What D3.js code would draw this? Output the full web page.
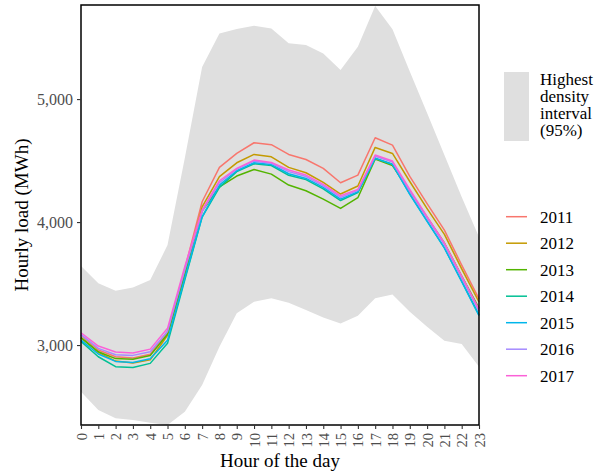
<!DOCTYPE html>
<html>
<head>
<meta charset="utf-8">
<script src="https://cdn.jsdelivr.net/npm/d3@7"></script>
<style>
  body { margin: 0; background: #fff; }
  svg { display: block; font-family: "Liberation Serif", "Times New Roman", serif; }
</style>
</head>
<body>
<div id="chart"></div>
<script>
// --------------------------------------------------------
// DATA
// --------------------------------------------------------
const hours = d3.range(0, 24);
const years = ["2011", "2012", "2013", "2014", "2015", "2016", "2017"];
const colors = ["#F8766D", "#C49A00", "#53B400", "#00C094", "#00B6EB", "#A58AFF", "#FB61D7"];

// highest density interval (95%)
const hdiUpper = [3642, 3502, 3441, 3469, 3528, 3813, 4520, 5260, 5533, 5569, 5596, 5574,
                  5455, 5439, 5371, 5236, 5425, 5756, 5567, 5225, 4886, 4545, 4203, 3878];
const hdiLower = [2620, 2472, 2404, 2390, 2368, 2350, 2458, 2675, 2986, 3258, 3352, 3380,
                  3345, 3285, 3225, 3176, 3238, 3380, 3412, 3271, 3149, 3035, 3008, 2824];

const load2011 = [3080, 2960, 2905, 2895, 2925, 3110, 3620, 4165, 4445, 4558, 4645, 4629,
                  4550, 4509, 4436, 4320, 4382, 4686, 4626, 4371, 4150, 3935, 3650, 3375];
const load2012 = [3060, 2940, 2870, 2855, 2880, 3080, 3570, 4124, 4369, 4482, 4550, 4531,
                  4445, 4401, 4322, 4228, 4293, 4607, 4558, 4330, 4110, 3900, 3620, 3350];
const load2013 = [3060, 2945, 2890, 2885, 2915, 3090, 3580, 4090, 4287, 4374, 4428, 4390,
                  4301, 4255, 4187, 4111, 4198, 4512, 4460, 4250, 4040, 3830, 3560, 3300];
const load2014 = [3030, 2905, 2824, 2818, 2851, 3014, 3530, 4040, 4282, 4410, 4474, 4460,
                  4380, 4345, 4270, 4175, 4240, 4520, 4470, 4230, 4010, 3790, 3520, 3245];
const load2015 = [3040, 2927, 2867, 2859, 2889, 3040, 3545, 4043, 4301, 4417, 4482, 4469,
                  4393, 4355, 4282, 4187, 4247, 4518, 4469, 4225, 4005, 3790, 3515, 3240];
const load2016 = [3085, 2973, 2921, 2916, 2946, 3110, 3610, 4085, 4320, 4430, 4495, 4478,
                  4410, 4370, 4295, 4200, 4258, 4535, 4488, 4250, 4030, 3815, 3545, 3275];
const load2017 = [3100, 2992, 2943, 2935, 2967, 3136, 3640, 4098, 4336, 4436, 4504, 4485,
                  4423, 4382, 4306, 4214, 4266, 4545, 4496, 4266, 4045, 3830, 3560, 3290];

const yTicks = [3000, 4000, 5000];
const hdiLabel = ["Highest", "density", "interval", "(95%)"];

// --------------------------------------------------------
// LAYOUT
// --------------------------------------------------------
const width = 594;
const height = 475;
const margin = { top: 5, right: 115, bottom: 50, left: 81 };
const innerW = width - margin.left - margin.right;
const innerH = height - margin.top - margin.bottom;

const series = years.map((y, i) => ({
  year: y,
  color: colors[i],
  values: [load2011, load2012, load2013, load2014, load2015, load2016, load2017][i],
}));

const x = d3.scaleLinear().domain([0, 23]).range([margin.left, margin.left + innerW]);
const y = d3.scaleLinear().domain([2350, 5765]).range([margin.top + innerH, margin.top]);

const svg = d3.select("#chart")
  .append("svg")
  .attr("width", width)
  .attr("height", height);

// band
const area = d3.area()
  .x((d, i) => x(hours[i]))
  .y0((d, i) => y(hdiLower[i]))
  .y1((d) => y(d));

svg.append("path")
  .attr("fill", "#DFDFDF")
  .attr("d", area(hdiUpper));

// lines
const line = d3.line()
  .x((d, i) => x(hours[i]))
  .y((d) => y(d));

svg.append("g")
  .selectAll("path")
  .data(series)
  .join("path")
  .attr("fill", "none")
  .attr("stroke", (d) => d.color)
  .attr("stroke-width", 1.5)
  .attr("stroke-linejoin", "round")
  .attr("d", (d) => line(d.values));

// panel border
svg.append("rect")
  .attr("x", margin.left)
  .attr("y", margin.top)
  .attr("width", innerW)
  .attr("height", innerH)
  .attr("fill", "none")
  .attr("stroke", "#000")
  .attr("stroke-width", 1.5);

// axes
const yAxis = svg.append("g")
  .attr("transform", `translate(${margin.left},0)`)
  .call(d3.axisLeft(y).tickValues(yTicks).tickFormat(d3.format(",")).tickSize(4).tickPadding(4));
yAxis.select(".domain").remove();
yAxis.selectAll("line").attr("stroke", "#333").attr("stroke-width", 1.1);
yAxis.selectAll("text")
  .attr("fill", "#4D4D4D")
  .style("font-size", "16px")
  .style("font-family", "Liberation Serif, serif");

const xAxis = svg.append("g")
  .attr("transform", `translate(0,${margin.top + innerH})`)
  .call(d3.axisBottom(x).tickValues(hours).tickFormat(d3.format("d")).tickSize(4));
xAxis.select(".domain").remove();
xAxis.selectAll("line").attr("stroke", "#333").attr("stroke-width", 1.1);
xAxis.selectAll("text")
  .attr("fill", "#4D4D4D")
  .style("font-size", "14.5px")
  .style("font-family", "Liberation Serif, serif")
  .attr("transform", "rotate(-90)")
  .attr("text-anchor", "end")
  .attr("dy", "0.35em")
  .attr("x", -8)
  .attr("y", 0);

// axis titles
svg.append("text")
  .attr("x", margin.left + innerW / 2)
  .attr("y", 467)
  .attr("text-anchor", "middle")
  .style("font-size", "19px")
  .text("Hour of the day");

svg.append("text")
  .attr("transform", `translate(28,${margin.top + innerH / 2}) rotate(-90)`)
  .attr("text-anchor", "middle")
  .style("font-size", "19px")
  .text("Hourly load (MWh)");

// legend: band
const lg = svg.append("g");
lg.append("rect")
  .attr("x", 504)
  .attr("y", 72)
  .attr("width", 25)
  .attr("height", 69)
  .attr("fill", "#DFDFDF");

lg.append("text")
  .attr("x", 540)
  .attr("y", 85)
  .style("font-size", "17px")
  .selectAll("tspan")
  .data(hdiLabel)
  .join("tspan")
  .attr("x", 540)
  .attr("dy", (d, i) => (i === 0 ? 0 : 17))
  .text((d) => d);

// legend: years
const items = lg.selectAll("g.item")
  .data(series)
  .join("g")
  .attr("class", "item")
  .attr("transform", (d, i) => `translate(0,${216.7 + i * 26.5})`);

items.append("line")
  .attr("x1", 506)
  .attr("x2", 527)
  .attr("stroke", (d) => d.color)
  .attr("stroke-width", 1.5);

items.append("text")
  .attr("x", 540)
  .attr("dy", "0.35em")
  .style("font-size", "17px")
  .text((d) => d.year);
</script>
</body>
</html>
